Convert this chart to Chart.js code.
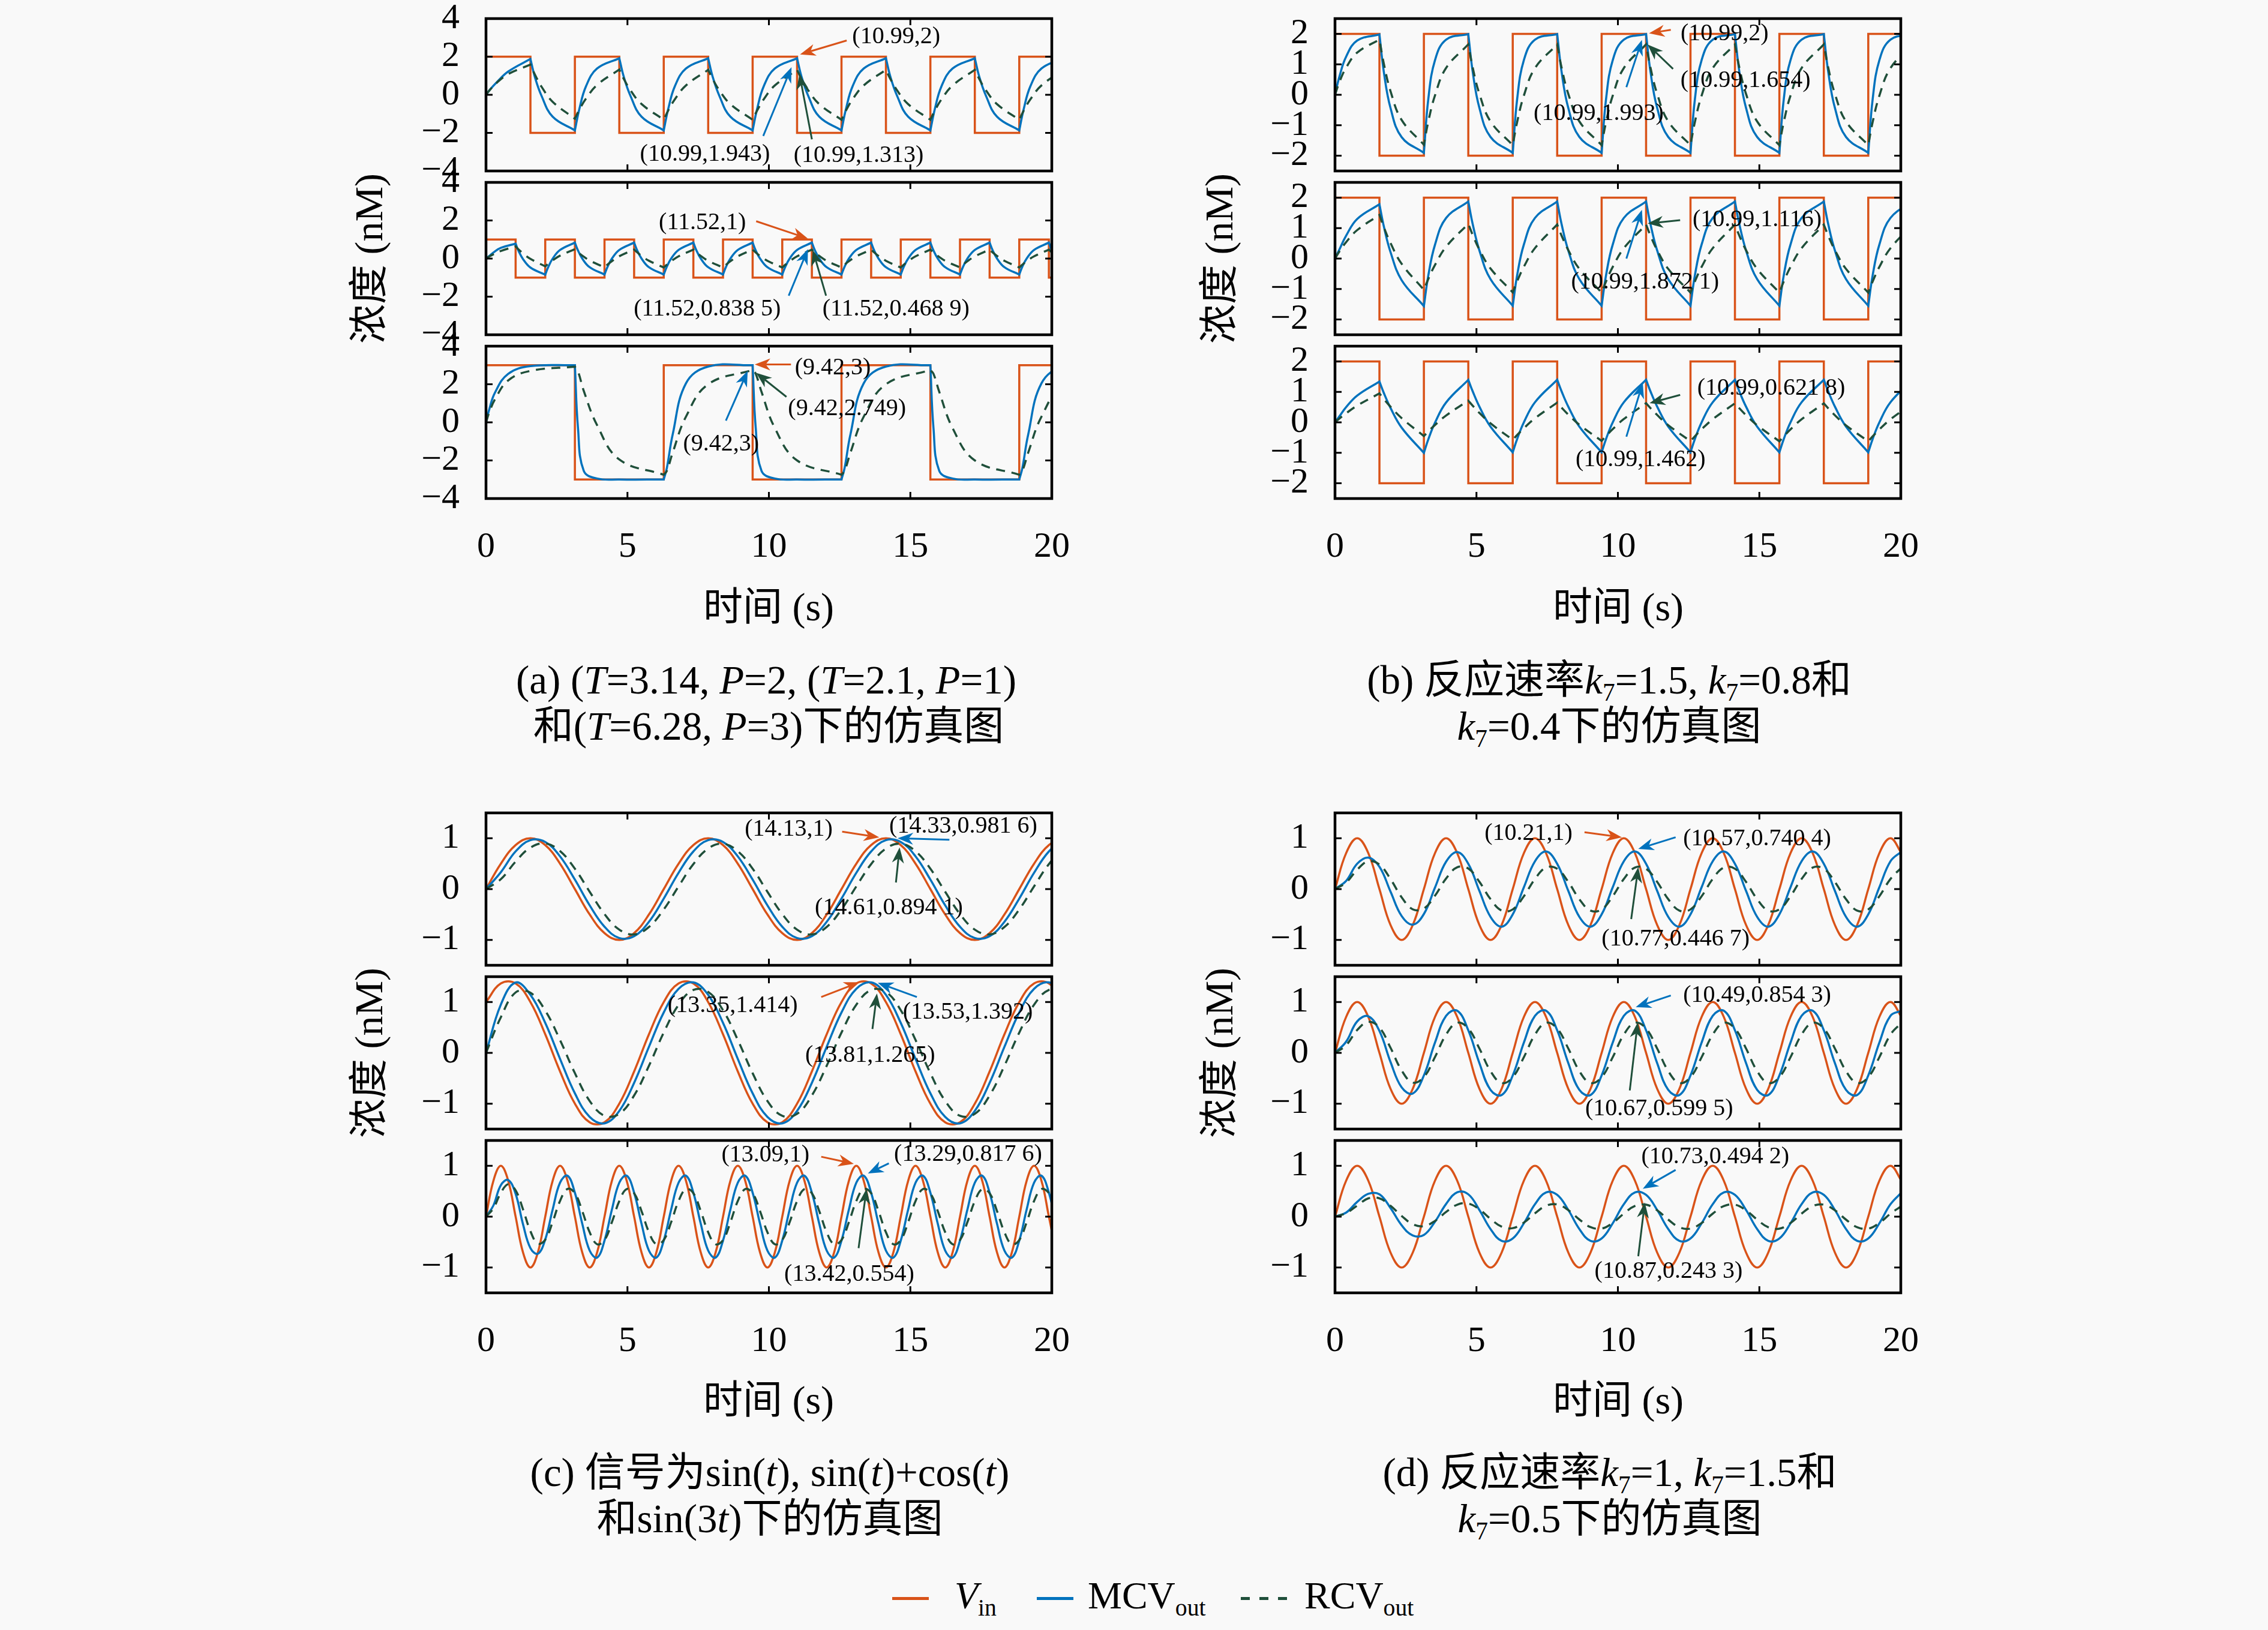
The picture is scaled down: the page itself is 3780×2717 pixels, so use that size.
<!DOCTYPE html>
<html>
<head>
<meta charset="utf-8">
<script src="https://cdn.jsdelivr.net/npm/chart.js@4.4.1/dist/chart.umd.min.js"></script>
<style>
  body { margin: 0; background: #f9f9f9; width: 3780px; height: 2717px; position: relative; overflow: hidden;
         font-family: "Liberation Serif", "Noto Sans CJK SC", serif; color: #000; }
  canvas { position: absolute; }
  .lab { position: absolute; transform: translate(-50%, -50%); white-space: nowrap; line-height: 1; }
  .cap { font-size: 67px; }
  .axt { font-size: 66px; }
  .rot { transform: translate(-50%, -50%) rotate(-90deg); }
  sub { font-size: 0.62em; vertical-align: -0.3em; line-height: 0; }
  .leg { position: absolute; font-size: 64px; line-height: 64px; top: 2628px; white-space: nowrap; }
  .legline { position: absolute; top: 2662px; height: 5px; width: 61px; }
</style>
</head>
<body>

<div class="lab axt" style="left:1281px; top:1012px">时间 (s)</div>
<div class="lab axt" style="left:2697px; top:1012px">时间 (s)</div>
<div class="lab axt" style="left:1281px; top:2334px">时间 (s)</div>
<div class="lab axt" style="left:2697px; top:2334px">时间 (s)</div>

<div class="lab axt rot" style="left:615px; top:431px">浓度 (nM)</div>
<div class="lab axt rot" style="left:2032px; top:431px">浓度 (nM)</div>
<div class="lab axt rot" style="left:615px; top:1755px">浓度 (nM)</div>
<div class="lab axt rot" style="left:2032px; top:1755px">浓度 (nM)</div>

<div class="lab cap" style="left:1277px; top:1133px">(a) (<i>T</i>=3.14, <i>P</i>=2, (<i>T</i>=2.1, <i>P</i>=1)</div>
<div class="lab cap" style="left:1281px; top:1210px">和(<i>T</i>=6.28, <i>P</i>=3)下的仿真图</div>
<div class="lab cap" style="left:2682px; top:1133px">(b) 反应速率<i>k</i><sub>7</sub>=1.5, <i>k</i><sub>7</sub>=0.8和</div>
<div class="lab cap" style="left:2682px; top:1210px"><i>k</i><sub>7</sub>=0.4下的仿真图</div>
<div class="lab cap" style="left:1283px; top:2454px">(c) 信号为sin(<i>t</i>), sin(<i>t</i>)+cos(<i>t</i>)</div>
<div class="lab cap" style="left:1283px; top:2531px">和sin(3<i>t</i>)下的仿真图</div>
<div class="lab cap" style="left:2683px; top:2454px">(d) 反应速率<i>k</i><sub>7</sub>=1, <i>k</i><sub>7</sub>=1.5和</div>
<div class="lab cap" style="left:2683px; top:2531px"><i>k</i><sub>7</sub>=0.5下的仿真图</div>

<div class="legline" style="left:1487px; background:#D95319"></div>
<div class="leg" style="left:1591px"><i>V</i><sub>in</sub></div>
<div class="legline" style="left:1728px; background:#0072BD"></div>
<div class="leg" style="left:1813px">MCV<sub>out</sub></div>
<div class="legline" style="left:2068px; width:77px; background:repeating-linear-gradient(to right, #1f4f3a 0 15px, transparent 15px 31px)"></div>
<div class="leg" style="left:2174px">RCV<sub>out</sub></div>

<script>
// ---- 刻度 ----
const X_TICKS = [0, 5, 10, 15, 20];
const Y_TICKS_A = [-4, -2, 0, 2, 4];
const Y_TICKS_B = [-2, -1, 0, 1, 2];
const Y_TICKS_CD = [-1, 0, 1];

// ---- 方波输入 (a1, b1-b3: T=3.14, P=2) ----
const tStep1 = [0, 1.571, 3.142, 4.712, 6.283, 7.854, 9.425, 10.996, 12.566, 14.137, 15.708, 17.279, 18.850, 20.420];
const vinSq1 = [2, -2, 2, -2, 2, -2, 2, -2, 2, -2, 2, -2, 2, 2];
// a2: T=2.1, P=1
const tStep2 = [0, 1.047, 2.094, 3.142, 4.189, 5.236, 6.283, 7.330, 8.378, 9.425, 10.472, 11.519, 12.566, 13.614,
  14.661, 15.708, 16.755, 17.802, 18.850, 19.897, 20.944];
const vinSq2 = [1, -1, 1, -1, 1, -1, 1, -1, 1, -1, 1, -1, 1, -1, 1, -1, 1, -1, 1, -1, -1];
// a3: T=6.28, P=3
const tStep3 = [0, 3.142, 6.283, 9.425, 12.566, 15.708, 18.850, 21.991];
const vinSq3 = [3, -3, 3, -3, 3, -3, 3, 3];

// ---- 方波响应采样时刻 ----
const tSq1 = [
  0, 0.157, 0.393, 0.785, 1.571,
  1.571, 1.728, 1.964, 2.356, 3.142,
  3.142, 3.299, 3.535, 3.927, 4.712,
  4.712, 4.869, 5.105, 5.498, 6.283,
  6.283, 6.440, 6.676, 7.069, 7.854,
  7.854, 8.011, 8.247, 8.639, 9.425,
  9.425, 9.582, 9.818, 10.210, 10.996,
  10.996, 11.153, 11.389, 11.781, 12.566,
  12.566, 12.723, 12.959, 13.352, 14.137,
  14.137, 14.294, 14.530, 14.923, 15.708,
  15.708, 15.865, 16.101, 16.493, 17.279,
  17.279, 17.436, 17.672, 18.064, 18.850,
  18.850, 19.007, 19.243, 19.635, 20.420];

const mcvA1 = [
  0, 0.30, 0.68, 1.22, 1.88,
  1.88, 0.93, -0.06, -1.15, -1.87,
  -1.87, -0.75, 0.45, 1.38, 1.92,
  1.92, 0.95, -0.05, -1.15, -1.87,
  -1.87, -0.75, 0.45, 1.38, 1.92,
  1.92, 0.95, -0.05, -1.15, -1.87,
  -1.87, -0.75, 0.45, 1.38, 1.92,
  1.92, 0.95, -0.05, -1.15, -1.87,
  -1.87, -0.75, 0.45, 1.38, 1.92,
  1.92, 0.95, -0.05, -1.15, -1.87,
  -1.87, -0.75, 0.45, 1.38, 1.92,
  1.92, 0.95, -0.05, -1.15, -1.87,
  -1.87, -0.75, 0.45, 1.38, 1.92];
const rcvA1 = [
  0, 0.291, 0.650, 1.089, 1.585,
  1.585, 1.063, 0.420, -0.368, -1.256,
  -1.256, -0.782, -0.198, 0.518, 1.325,
  1.325, 0.841, 0.244, -0.486, -1.310,
  -1.310, -0.828, -0.234, 0.493, 1.313,
  1.313, 0.831, 0.236, -0.492, -1.313,
  -1.313, -0.831, -0.236, 0.492, 1.313,
  1.313, 0.831, 0.236, -0.492, -1.313,
  -1.313, -0.831, -0.236, 0.492, 1.313,
  1.313, 0.831, 0.236, -0.492, -1.313,
  -1.313, -0.831, -0.236, 0.492, 1.313,
  1.313, 0.831, 0.236, -0.492, -1.313,
  -1.313, -0.831, -0.236, 0.492, 1.313];

const tSq2 = [
  0, 0.105, 0.262, 0.524, 1.047,
  1.047, 1.152, 1.309, 1.571, 2.094,
  2.094, 2.199, 2.356, 2.618, 3.142,
  3.142, 3.247, 3.403, 3.665, 4.189,
  4.189, 4.294, 4.451, 4.712, 5.236,
  5.236, 5.341, 5.498, 5.760, 6.283,
  6.283, 6.388, 6.545, 6.807, 7.330,
  7.330, 7.435, 7.592, 7.854, 8.378,
  8.378, 8.482, 8.639, 8.901, 9.425,
  9.425, 9.529, 9.687, 9.948, 10.472,
  10.472, 10.577, 10.734, 10.996, 11.519,
  11.519, 11.624, 11.781, 12.043, 12.566,
  12.566, 12.671, 12.828, 13.090, 13.614,
  13.614, 13.718, 13.875, 14.137, 14.661,
  14.661, 14.765, 14.923, 15.184, 15.708,
  15.708, 15.813, 15.970, 16.232, 16.755,
  16.755, 16.860, 17.017, 17.279, 17.802,
  17.802, 17.907, 18.064, 18.326, 18.850,
  18.850, 18.954, 19.111, 19.373, 19.897,
  19.897, 20.001, 20.159, 20.420, 20.944];
const mcvA2 = [
  0, 0.12, 0.32, 0.56, 0.78,
  0.78, 0.396, -0.031, -0.472, -0.844,
  -0.844, -0.446, -0.004, 0.453, 0.838,
  0.838, 0.442, 0.001, -0.455, -0.838,
  -0.838, -0.442, -0.001, 0.455, 0.838,
  0.838, 0.442, 0.001, -0.455, -0.838,
  -0.838, -0.442, -0.001, 0.455, 0.838,
  0.838, 0.442, 0.001, -0.455, -0.838,
  -0.838, -0.442, -0.001, 0.455, 0.838,
  0.838, 0.442, 0.001, -0.455, -0.838,
  -0.838, -0.442, -0.001, 0.455, 0.838,
  0.838, 0.442, 0.001, -0.455, -0.838,
  -0.838, -0.442, -0.001, 0.455, 0.838,
  0.838, 0.442, 0.001, -0.455, -0.838,
  -0.838, -0.442, -0.001, 0.455, 0.838,
  0.838, 0.442, 0.001, -0.455, -0.838,
  -0.838, -0.442, -0.001, 0.455, 0.838,
  0.838, 0.442, 0.001, -0.455, -0.838,
  -0.838, -0.442, -0.001, 0.455, 0.838,
  0.838, 0.442, 0.001, -0.455, -0.838];
const rcvA2 = [
  0, 0.097, 0.224, 0.399, 0.638,
  0.638, 0.480, 0.270, -0.015, -0.408,
  -0.408, -0.272, -0.092, 0.153, 0.491,
  0.491, 0.347, 0.156, -0.103, -0.461,
  -0.461, -0.320, -0.133, 0.121, 0.472,
  0.472, 0.330, 0.142, -0.115, -0.468,
  -0.468, -0.326, -0.139, 0.117, 0.469,
  0.469, 0.326, 0.139, -0.117, -0.469,
  -0.469, -0.326, -0.139, 0.117, 0.469,
  0.469, 0.326, 0.139, -0.117, -0.469,
  -0.469, -0.326, -0.139, 0.117, 0.469,
  0.469, 0.326, 0.139, -0.117, -0.469,
  -0.469, -0.326, -0.139, 0.117, 0.469,
  0.469, 0.326, 0.139, -0.117, -0.469,
  -0.469, -0.326, -0.139, 0.117, 0.469,
  0.469, 0.326, 0.139, -0.117, -0.469,
  -0.469, -0.326, -0.139, 0.117, 0.469,
  0.469, 0.326, 0.139, -0.117, -0.469,
  -0.469, -0.326, -0.139, 0.117, 0.469,
  0.469, 0.326, 0.139, -0.117, -0.469];

const tSq3 = [
  0, 0.110, 0.314, 0.785, 1.571, 3.142,
  3.142, 3.252, 3.456, 3.927, 4.712, 6.283,
  6.283, 6.393, 6.597, 7.069, 7.854, 9.425,
  9.425, 9.535, 9.739, 10.210, 10.996, 12.566,
  12.566, 12.676, 12.880, 13.352, 14.137, 15.708,
  15.708, 15.818, 16.022, 16.493, 17.279, 18.850,
  18.850, 18.960, 19.164, 19.635, 20.420, 21.991];
const mcvA3 = [
  0, 0.65, 1.55, 2.55, 2.95, 3.0,
  3.0, -0.3, -2.55, -2.95, -3.0, -3.0,
  -3.0, -2.4, -0.65, 2.05, 2.93, 3.0,
  3.0, -0.3, -2.55, -2.95, -3.0, -3.0,
  -3.0, -2.4, -0.65, 2.05, 2.93, 3.0,
  3.0, -0.3, -2.55, -2.95, -3.0, -3.0,
  -3.0, -2.4, -0.65, 2.05, 2.93, 3.0];
const rcvA3 = [
  0, 0.5, 1.2, 2.2, 2.7, 2.92,
  2.92, 2.68, 1.65, -0.15, -1.95, -2.75,
  -2.75, -2.55, -1.6, 0.3, 2.0, 2.75,
  2.75, 2.55, 1.6, -0.3, -2.0, -2.75,
  -2.75, -2.55, -1.6, 0.3, 2.0, 2.75,
  2.75, 2.55, 1.6, -0.3, -2.0, -2.75,
  -2.75, -2.55, -1.6, 0.3, 2.0, 2.75];

// b: k7 = 1.5 / 0.8 / 0.4 (时刻同 tSq1)
const mcvB1 = [
  0, 0.60, 1.25, 1.78, 1.98,
  1.98, 0.74, -0.44, -1.39, -1.905,
  -1.905, -0.134, 1.137, 1.809, 1.991,
  1.991, 0.746, -0.433, -1.385, -1.905,
  -1.905, -0.134, 1.137, 1.809, 1.991,
  1.991, 0.746, -0.433, -1.385, -1.905,
  -1.905, -0.134, 1.137, 1.809, 1.991,
  1.991, 0.746, -0.433, -1.385, -1.905,
  -1.905, -0.134, 1.137, 1.809, 1.991,
  1.991, 0.746, -0.433, -1.385, -1.905,
  -1.905, -0.134, 1.137, 1.809, 1.991,
  1.991, 0.746, -0.433, -1.385, -1.905,
  -1.905, -0.134, 1.137, 1.809, 1.991];
const rcvB1 = [
  0, 0.420, 0.890, 1.385, 1.811,
  1.811, 1.011, 0.115, -0.827, -1.639,
  -1.639, -0.875, -0.020, 0.880, 1.655,
  1.655, 0.887, 0.028, -0.875, -1.654,
  -1.654, -0.887, -0.028, 0.876, 1.654,
  1.654, 0.887, 0.028, -0.876, -1.654,
  -1.654, -0.887, -0.028, 0.876, 1.654,
  1.654, 0.887, 0.028, -0.876, -1.654,
  -1.654, -0.887, -0.028, 0.876, 1.654,
  1.654, 0.887, 0.028, -0.876, -1.654,
  -1.654, -0.887, -0.028, 0.876, 1.654,
  1.654, 0.887, 0.028, -0.876, -1.654,
  -1.654, -0.887, -0.028, 0.876, 1.654];
const mcvB2 = [
  0, 0.30, 0.75, 1.30, 1.78,
  1.78, 1.049, 0.208, -0.710, -1.560,
  -1.560, -0.550, 0.455, 1.331, 1.874,
  1.874, 1.124, 0.263, -0.678, -1.549,
  -1.549, -0.541, 0.460, 1.333, 1.874,
  1.874, 1.124, 0.263, -0.678, -1.549,
  -1.549, -0.541, 0.460, 1.333, 1.874,
  1.874, 1.124, 0.263, -0.678, -1.549,
  -1.549, -0.541, 0.460, 1.333, 1.874,
  1.874, 1.124, 0.263, -0.678, -1.549,
  -1.549, -0.541, 0.460, 1.333, 1.874,
  1.874, 1.124, 0.263, -0.678, -1.549,
  -1.549, -0.541, 0.460, 1.333, 1.874];
const rcvB2 = [
  0, 0.237, 0.540, 0.935, 1.433,
  1.433, 1.027, 0.505, -0.172, -1.026,
  -1.026, -0.668, -0.208, 0.388, 1.142,
  1.142, 0.770, 0.293, -0.327, -1.109,
  -1.109, -0.741, -0.269, 0.344, 1.118,
  1.118, 0.749, 0.276, -0.339, -1.115,
  -1.115, -0.747, -0.274, 0.340, 1.116,
  1.116, 0.747, 0.274, -0.340, -1.116,
  -1.116, -0.747, -0.274, 0.340, 1.116,
  1.116, 0.747, 0.274, -0.340, -1.116,
  -1.116, -0.747, -0.274, 0.340, 1.116,
  1.116, 0.747, 0.274, -0.340, -1.116,
  -1.116, -0.747, -0.274, 0.340, 1.116];
const mcvB3 = [
  0, 0.20, 0.50, 0.88, 1.34,
  1.34, 0.960, 0.470, -0.174, -1.002,
  -1.002, -0.556, -0.010, 0.653, 1.395,
  1.395, 1.013, 0.514, -0.141, -0.984,
  -0.984, -0.542, 0.001, 0.660, 1.399,
  1.399, 1.013, 0.514, -0.141, -0.984,
  -0.984, -0.542, 0.001, 0.660, 1.399,
  1.399, 1.013, 0.514, -0.141, -0.984,
  -0.984, -0.542, 0.001, 0.660, 1.399,
  1.399, 1.013, 0.514, -0.141, -0.984,
  -0.984, -0.542, 0.001, 0.660, 1.399,
  1.399, 1.013, 0.514, -0.141, -0.984,
  -0.984, -0.542, 0.001, 0.660, 1.399];
const rcvB3 = [
  0, 0.125, 0.297, 0.550, 0.949,
  0.949, 0.765, 0.511, 0.138, -0.450,
  -0.450, -0.297, -0.086, 0.224, 0.712,
  0.712, 0.543, 0.309, -0.034, -0.574,
  -0.574, -0.414, -0.192, 0.134, 0.647,
  0.647, 0.482, 0.254, -0.081, -0.608,
  -0.608, -0.446, -0.221, 0.109, 0.629,
  0.629, 0.465, 0.239, -0.094, -0.618,
  -0.618, -0.455, -0.229, 0.102, 0.624,
  0.624, 0.461, 0.234, -0.097, -0.621,
  -0.621, -0.458, -0.232, 0.100, 0.622,
  0.622, 0.459, 0.233, -0.099, -0.622,
  -0.622, -0.459, -0.232, 0.099, 0.622];

// ---- c: sin(t), sin(t)+cos(t), sin(3t) ----
const tC1 = [
  0, 0.524, 1.047, 1.571, 2.094, 2.618, 3.142, 3.665, 4.189, 4.712, 5.236, 5.760,
  6.283, 6.807, 7.330, 7.854, 8.378, 8.901, 9.425, 9.948, 10.472, 10.996, 11.519, 12.043,
  12.566, 13.090, 13.614, 14.137, 14.661, 15.184, 15.708, 16.232, 16.755, 17.279, 17.802, 18.326,
  18.850, 19.373, 19.897, 20.420];
const vinC1 = [
  0, 0.5, 0.866, 1, 0.866, 0.5, 0, -0.5, -0.866, -1, -0.866, -0.5,
  0, 0.5, 0.866, 1, 0.866, 0.5, 0, -0.5, -0.866, -1, -0.866, -0.5,
  0, 0.5, 0.866, 1, 0.866, 0.5, 0, -0.5, -0.866, -1, -0.866, -0.5,
  0, 0.5, 0.866, 1];
const mcvC1 = [
  0, 0.333, 0.742, 0.964, 0.928, 0.644, 0.187, -0.320, -0.741, -0.964, -0.928, -0.644,
  -0.187, 0.320, 0.741, 0.964, 0.928, 0.644, 0.187, -0.320, -0.741, -0.964, -0.928, -0.644,
  -0.187, 0.320, 0.741, 0.964, 0.928, 0.644, 0.187, -0.320, -0.741, -0.964, -0.928, -0.644,
  -0.187, 0.320, 0.741, 0.964];
const rcvC1 = [
  0, 0.194, 0.542, 0.817, 0.899, 0.749, 0.401, -0.053, -0.492, -0.799, -0.893, -0.746,
  -0.401, 0.053, 0.492, 0.799, 0.893, 0.746, 0.401, -0.053, -0.492, -0.799, -0.893, -0.746,
  -0.401, 0.053, 0.492, 0.799, 0.893, 0.746, 0.401, -0.053, -0.492, -0.799, -0.893, -0.746,
  -0.401, 0.053, 0.492, 0.799];
const vinC2 = [
  1.0, 1.366, 1.366, 1.0, 0.366, -0.366, -1.0, -1.366, -1.366, -1.0, -0.366, 0.366,
  1.0, 1.366, 1.366, 1.0, 0.366, -0.366, -1.0, -1.366, -1.366, -1.0, -0.366, 0.366,
  1.0, 1.366, 1.366, 1.0, 0.366, -0.366, -1.0, -1.366, -1.366, -1.0, -0.366, 0.366,
  1.0, 1.366, 1.366, 1.0];
const mcvC2 = [
  0, 0.95, 1.385, 1.142, 0.590, -0.119, -0.796, -1.261, -1.387, -1.142, -0.590, 0.119,
  0.796, 1.261, 1.387, 1.142, 0.590, -0.119, -0.796, -1.261, -1.387, -1.142, -0.590, 0.119,
  0.796, 1.261, 1.387, 1.142, 0.590, -0.119, -0.796, -1.261, -1.387, -1.142, -0.590, 0.119,
  0.796, 1.261, 1.387, 1.142];
const rcvC2 = [
  0, 0.70, 1.190, 1.183, 0.833, 0.252, -0.400, -0.947, -1.239, -1.200, -0.839, -0.254,
  0.400, 0.947, 1.239, 1.200, 0.839, 0.254, -0.400, -0.947, -1.239, -1.200, -0.839, -0.254,
  0.400, 0.947, 1.239, 1.200, 0.839, 0.254, -0.400, -0.947, -1.239, -1.200, -0.839, -0.254,
  0.400, 0.947, 1.239, 1.200];
const tC3 = [
  0, 0.262, 0.524, 0.785, 1.047, 1.309, 1.571, 1.833,
  2.094, 2.356, 2.618, 2.880, 3.142, 3.403, 3.665, 3.927,
  4.189, 4.451, 4.712, 4.974, 5.236, 5.498, 5.760, 6.021,
  6.283, 6.545, 6.807, 7.069, 7.330, 7.592, 7.854, 8.116,
  8.378, 8.639, 8.901, 9.163, 9.425, 9.687, 9.948, 10.210,
  10.472, 10.734, 10.996, 11.257, 11.519, 11.781, 12.043, 12.305,
  12.566, 12.828, 13.090, 13.352, 13.614, 13.875, 14.137, 14.399,
  14.661, 14.923, 15.184, 15.446, 15.708, 15.970, 16.232, 16.493,
  16.755, 17.017, 17.279, 17.541, 17.802, 18.064, 18.326, 18.588,
  18.850, 19.111, 19.373, 19.635, 19.897, 20.159];
const vinC3 = [
  0, 0.707, 1, 0.707, 0, -0.707, -1, -0.707,
  0, 0.707, 1, 0.707, 0, -0.707, -1, -0.707,
  0, 0.707, 1, 0.707, 0, -0.707, -1, -0.707,
  0, 0.707, 1, 0.707, 0, -0.707, -1, -0.707,
  0, 0.707, 1, 0.707, 0, -0.707, -1, -0.707,
  0, 0.707, 1, 0.707, 0, -0.707, -1, -0.707,
  0, 0.707, 1, 0.707, 0, -0.707, -1, -0.707,
  0, 0.707, 1, 0.707, 0, -0.707, -1, -0.707,
  0, 0.707, 1, 0.707, 0, -0.707, -1, -0.707,
  0, 0.707, 1, 0.707, 0, -0.707];
const mcvC3 = [
  0, 0.22, 0.62, 0.72, 0.45, -0.15, -0.62, -0.73,
  -0.45, 0.14, 0.67, 0.806, 0.471, -0.140, -0.669, -0.806,
  -0.471, 0.140, 0.669, 0.806, 0.471, -0.140, -0.669, -0.806,
  -0.471, 0.140, 0.669, 0.806, 0.471, -0.140, -0.669, -0.806,
  -0.471, 0.140, 0.669, 0.806, 0.471, -0.140, -0.669, -0.806,
  -0.471, 0.140, 0.669, 0.806, 0.471, -0.140, -0.669, -0.806,
  -0.471, 0.140, 0.669, 0.806, 0.471, -0.140, -0.669, -0.806,
  -0.471, 0.140, 0.669, 0.806, 0.471, -0.140, -0.669, -0.806,
  -0.471, 0.140, 0.669, 0.806, 0.471, -0.140, -0.669, -0.806,
  -0.471, 0.140, 0.669, 0.806, 0.471, -0.140];
const rcvC3 = [
  0, 0.164, 0.469, 0.639, 0.518, 0.143, -0.287, -0.531,
  -0.454, -0.105, 0.310, 0.545, 0.462, 0.109, -0.307, -0.543,
  -0.461, -0.109, 0.307, 0.543, 0.461, 0.109, -0.307, -0.543,
  -0.461, -0.109, 0.307, 0.543, 0.461, 0.109, -0.307, -0.543,
  -0.461, -0.109, 0.307, 0.543, 0.461, 0.109, -0.307, -0.543,
  -0.461, -0.109, 0.307, 0.543, 0.461, 0.109, -0.307, -0.543,
  -0.461, -0.109, 0.307, 0.543, 0.461, 0.109, -0.307, -0.543,
  -0.461, -0.109, 0.307, 0.543, 0.461, 0.109, -0.307, -0.543,
  -0.461, -0.109, 0.307, 0.543, 0.461, 0.109, -0.307, -0.543,
  -0.461, -0.109, 0.307, 0.543, 0.461, 0.109];

// ---- d: sin(2t), k7 = 1 / 1.5 / 0.5 ----
const tD = [
  0, 0.393, 0.785, 1.178, 1.571, 1.963, 2.356, 2.749,
  3.142, 3.534, 3.927, 4.320, 4.712, 5.105, 5.498, 5.890,
  6.283, 6.676, 7.069, 7.461, 7.854, 8.247, 8.639, 9.032,
  9.425, 9.817, 10.210, 10.603, 10.996, 11.388, 11.781, 12.174,
  12.566, 12.959, 13.352, 13.744, 14.137, 14.530, 14.923, 15.315,
  15.708, 16.101, 16.493, 16.886, 17.279, 17.671, 18.064, 18.457,
  18.850, 19.242, 19.635, 20.028];
const vinD = [
  0, 0.707, 1, 0.707, 0, -0.707, -1, -0.707,
  0, 0.707, 1, 0.707, 0, -0.707, -1, -0.707,
  0, 0.707, 1, 0.707, 0, -0.707, -1, -0.707,
  0, 0.707, 1, 0.707, 0, -0.707, -1, -0.707,
  0, 0.707, 1, 0.707, 0, -0.707, -1, -0.707,
  0, 0.707, 1, 0.707, 0, -0.707, -1, -0.707,
  0, 0.707, 1, 0.707];
const mcvD1 = [
  0, 0.16, 0.50, 0.62, 0.44, -0.05, -0.53, -0.70,
  -0.49, 0.03, 0.54, 0.73, 0.498, -0.036, -0.548, -0.740,
  -0.498, 0.036, 0.548, 0.740, 0.498, -0.036, -0.548, -0.740,
  -0.498, 0.036, 0.548, 0.740, 0.498, -0.036, -0.548, -0.740,
  -0.498, 0.036, 0.548, 0.740, 0.498, -0.036, -0.548, -0.740,
  -0.498, 0.036, 0.548, 0.740, 0.498, -0.036, -0.548, -0.740,
  -0.498, 0.036, 0.548, 0.740];
const rcvD1 = [
  0, 0.129, 0.382, 0.547, 0.483, 0.197, -0.162, -0.398,
  -0.383, -0.129, 0.208, 0.429, 0.404, 0.143, -0.198, -0.423,
  -0.400, -0.141, 0.200, 0.424, 0.400, 0.141, -0.200, -0.424,
  -0.400, -0.141, 0.200, 0.424, 0.400, 0.141, -0.200, -0.424,
  -0.400, -0.141, 0.200, 0.424, 0.400, 0.141, -0.200, -0.424,
  -0.400, -0.141, 0.200, 0.424, 0.400, 0.141, -0.200, -0.424,
  -0.400, -0.141, 0.200, 0.424];
const mcvD2 = [
  0, 0.22, 0.62, 0.72, 0.43, -0.18, -0.68, -0.80,
  -0.444, 0.202, 0.730, 0.830, 0.444, -0.202, -0.730, -0.830,
  -0.444, 0.202, 0.730, 0.830, 0.444, -0.202, -0.730, -0.830,
  -0.444, 0.202, 0.730, 0.830, 0.444, -0.202, -0.730, -0.830,
  -0.444, 0.202, 0.730, 0.830, 0.444, -0.202, -0.730, -0.830,
  -0.444, 0.202, 0.730, 0.830, 0.444, -0.202, -0.730, -0.830,
  -0.444, 0.202, 0.730, 0.830];
const rcvD2 = [
  0, 0.15, 0.45, 0.61, 0.50, 0.10, -0.346, -0.585,
  -0.476, -0.083, 0.361, 0.593, 0.480, 0.085, -0.360, -0.593,
  -0.480, -0.085, 0.360, 0.593, 0.480, 0.085, -0.360, -0.593,
  -0.480, -0.085, 0.360, 0.593, 0.480, 0.085, -0.360, -0.593,
  -0.480, -0.085, 0.360, 0.593, 0.480, 0.085, -0.360, -0.593,
  -0.480, -0.085, 0.360, 0.593, 0.480, 0.085, -0.360, -0.593,
  -0.480, -0.085, 0.360, 0.593];
const mcvD3 = [
  0, 0.08, 0.29, 0.45, 0.44, 0.17, -0.17, -0.37,
  -0.36, -0.10, 0.25, 0.48, 0.44, 0.13, -0.244, -0.477,
  -0.430, -0.131, 0.244, 0.477, 0.430, 0.131, -0.244, -0.477,
  -0.430, -0.131, 0.244, 0.477, 0.430, 0.131, -0.244, -0.477,
  -0.430, -0.131, 0.244, 0.477, 0.430, 0.131, -0.244, -0.477,
  -0.430, -0.131, 0.244, 0.477, 0.430, 0.131, -0.244, -0.477,
  -0.430, -0.131, 0.244, 0.477];
const rcvD3 = [
  0, 0.069, 0.218, 0.36, 0.36, 0.213, 0.014, -0.149,
  -0.187, -0.085, 0.092, 0.236, 0.258, 0.143, -0.044, -0.197,
  -0.226, -0.117, 0.066, 0.215, 0.241, 0.129, -0.056, -0.206,
  -0.234, -0.123, 0.060, 0.210, 0.236, 0.125, -0.059, -0.209,
  -0.236, -0.125, 0.059, 0.209, 0.236, 0.125, -0.059, -0.209,
  -0.236, -0.125, 0.059, 0.209, 0.236, 0.125, -0.059, -0.209,
  -0.236, -0.125, 0.059, 0.209];

// ---- 标注 (文字中心, 箭头起点 -> 终点, 数据坐标) ----
const notesA1 = [
  { s: '(10.99,2)', t: [14.5, 3.05], a: [12.75, 2.85], b: [11.1, 2.12], c: 'vin' },
  { s: '(10.99,1.943)', t: [7.74, -3.13], a: [9.8, -2.16], b: [10.8, 1.45], c: 'mcv' },
  { s: '(10.99,1.313)', t: [13.17, -3.2], a: [11.52, -2.34], b: [11.08, 1.1], c: 'rcv' }];
const notesA2 = [
  { s: '(11.52,1)', t: [7.65, 1.86], a: [9.55, 1.96], b: [11.38, 1.05], c: 'vin' },
  { s: '(11.52,0.838 5)', t: [7.82, -2.65], a: [10.7, -1.95], b: [11.38, 0.5], c: 'mcv' },
  { s: '(11.52,0.468 9)', t: [14.49, -2.65], a: [12.02, -1.95], b: [11.55, 0.45], c: 'rcv' }];
const notesA3 = [
  { s: '(9.42,3)', t: [12.26, 2.86], a: [10.78, 3.04], b: [9.5, 3.04], c: 'vin' },
  { s: '(9.42,2.749)', t: [12.76, 0.71], a: [10.62, 1.34], b: [9.55, 2.6], c: 'rcv' },
  { s: '(9.42,3)', t: [8.31, -1.16], a: [8.48, 0.09], b: [9.25, 2.7], c: 'mcv' }];
const notesB1 = [
  { s: '(10.99,2)', t: [13.77, 2.0], a: [11.87, 2.13], b: [11.1, 2.02], c: 'vin' },
  { s: '(10.99,1.654)', t: [14.51, 0.47], a: [11.95, 0.85], b: [11.05, 1.65], c: 'rcv' },
  { s: '(10.99,1.993)', t: [9.32, -0.62], a: [10.3, 0.25], b: [10.85, 1.8], c: 'mcv' }];
const notesB2 = [
  { s: '(10.99,1.116)', t: [14.92, 1.26], a: [12.2, 1.26], b: [11.05, 1.15], c: 'rcv' },
  { s: '(10.99,1.872 1)', t: [10.96, -0.77], a: [10.3, 0.0], b: [10.85, 1.6], c: 'mcv' }];
const notesB3 = [
  { s: '(10.99,0.621 8)', t: [15.42, 1.12], a: [12.2, 0.9], b: [11.12, 0.63], c: 'rcv' },
  { s: '(10.99,1.462)', t: [10.8, -1.24], a: [10.3, -0.47], b: [10.88, 1.3], c: 'mcv' }];
const notesC1 = [
  { s: '(14.13,1)', t: [10.7, 1.17], a: [12.59, 1.13], b: [13.9, 1.02], c: 'vin' },
  { s: '(14.33,0.981 6)', t: [16.87, 1.23], a: [16.38, 0.97], b: [14.55, 1.0], c: 'mcv' },
  { s: '(14.61,0.894 1)', t: [14.24, -0.37], a: [14.49, 0.13], b: [14.62, 0.82], c: 'rcv' }];
const notesC2 = [
  { s: '(13.35,1.414)', t: [8.72, 0.93], a: [11.85, 1.1], b: [13.2, 1.39], c: 'vin' },
  { s: '(13.53,1.392)', t: [17.03, 0.8], a: [15.23, 1.1], b: [13.85, 1.38], c: 'mcv' },
  { s: '(13.81,1.265)', t: [13.58, -0.05], a: [13.66, 0.47], b: [13.82, 1.17], c: 'rcv' }];
const notesC3 = [
  { s: '(13.09,1)', t: [9.88, 1.21], a: [11.85, 1.18], b: [13.0, 1.04], c: 'vin' },
  { s: '(13.29,0.817 6)', t: [17.04, 1.22], a: [14.24, 1.05], b: [13.5, 0.85], c: 'mcv' },
  { s: '(13.42,0.554)', t: [12.84, -1.14], a: [13.17, -0.62], b: [13.45, 0.55], c: 'rcv' }];
const notesD1 = [
  { s: '(10.21,1)', t: [6.84, 1.09], a: [8.82, 1.12], b: [10.14, 1.02], c: 'vin' },
  { s: '(10.57,0.740 4)', t: [14.92, 0.99], a: [12.04, 1.02], b: [10.72, 0.79], c: 'mcv' },
  { s: '(10.77,0.446 7)', t: [12.04, -0.99], a: [10.47, -0.59], b: [10.72, 0.43], c: 'rcv' }];
const notesD2 = [
  { s: '(10.49,0.854 3)', t: [14.92, 1.13], a: [11.87, 1.13], b: [10.63, 0.9], c: 'mcv' },
  { s: '(10.67,0.599 5)', t: [11.46, -1.1], a: [10.42, -0.74], b: [10.7, 0.6], c: 'rcv' }];
const notesD3 = [
  { s: '(10.73,0.494 2)', t: [13.44, 1.18], a: [12.04, 0.92], b: [10.88, 0.55], c: 'mcv' },
  { s: '(10.87,0.243 3)', t: [11.79, -1.08], a: [10.72, -0.78], b: [10.95, 0.28], c: 'rcv' }];

// ---- 样式与布局 ----
const COLORS = { vin: '#D95319', mcv: '#0072BD', rcv: '#1f4f3a' };
const FONT = '"Liberation Serif", serif';
const BOX_W = 943, BOX_H = 254;
const Y_AXIS_W = 180, PAD_T = 40, PAD_R = 45, PAD_B = 40, X_AXIS_H = 120;
const TICK_LEN = 11;

function pts(xs, ys) {
  return xs.map((x, i) => ({ x: x, y: ys[i] }));
}

function fmt(v) {
  return v < 0 ? '\u2212' + (-v) : String(v);
}

function arrow(ctx, x0, y0, x1, y1, color) {
  const ang = Math.atan2(y1 - y0, x1 - x0);
  const cs = Math.cos(ang), sn = Math.sin(ang);
  const L = 26, W = 10;
  ctx.strokeStyle = color;
  ctx.fillStyle = color;
  ctx.lineWidth = 3;
  ctx.beginPath();
  ctx.moveTo(x0, y0);
  ctx.lineTo(x1 - L * 0.7 * cs, y1 - L * 0.7 * sn);
  ctx.stroke();
  ctx.beginPath();
  ctx.moveTo(x1, y1);
  ctx.lineTo(x1 - L * cs + W * sn, y1 - L * sn - W * cs);
  ctx.lineTo(x1 - L * 0.7 * cs, y1 - L * 0.7 * sn);
  ctx.lineTo(x1 - L * cs - W * sn, y1 - L * sn + W * cs);
  ctx.closePath();
  ctx.fill();
}

// 外框、向内刻度和标注
const framePlugin = {
  id: 'frame',
  afterDatasetsDraw(chart, args, opts) {
    const { ctx, chartArea: ar } = chart;
    const xs = chart.scales.x, ys = chart.scales.y;
    ctx.save();
    ctx.strokeStyle = '#000';
    ctx.lineWidth = 3;
    ctx.beginPath();
    X_TICKS.forEach(v => {
      const px = xs.getPixelForValue(v);
      ctx.moveTo(px, ar.bottom); ctx.lineTo(px, ar.bottom - TICK_LEN);
      ctx.moveTo(px, ar.top); ctx.lineTo(px, ar.top + TICK_LEN);
    });
    opts.yTicks.forEach(v => {
      const py = ys.getPixelForValue(v);
      ctx.moveTo(ar.left, py); ctx.lineTo(ar.left + TICK_LEN, py);
      ctx.moveTo(ar.right, py); ctx.lineTo(ar.right - TICK_LEN, py);
    });
    ctx.stroke();
    ctx.lineWidth = 4.5;
    ctx.strokeRect(ar.left, ar.top, ar.right - ar.left, ar.bottom - ar.top);

    opts.notes.forEach(n => {
      arrow(ctx, xs.getPixelForValue(n.a[0]), ys.getPixelForValue(n.a[1]),
        xs.getPixelForValue(n.b[0]), ys.getPixelForValue(n.b[1]), COLORS[n.c]);
      ctx.fillStyle = '#000';
      ctx.font = '40px ' + FONT;
      ctx.textAlign = 'center';
      ctx.textBaseline = 'middle';
      ctx.fillText(n.s, xs.getPixelForValue(n.t[0]), ys.getPixelForValue(n.t[1]));
    });
    ctx.restore();
  }
};

function zeroPad(s) {
  s.paddingLeft = 0; s.paddingRight = 0; s.paddingTop = 0; s.paddingBottom = 0;
}

function makePlot(p) {
  const cv = document.createElement('canvas');
  const w = Y_AXIS_W + BOX_W + PAD_R;
  const h = PAD_T + BOX_H + (p.showX ? X_AXIS_H : PAD_B);
  cv.width = w; cv.height = h;
  cv.style.left = (p.left - Y_AXIS_W) + 'px';
  cv.style.top = (p.top - PAD_T) + 'px';
  document.body.appendChild(cv);

  // 方波输入画阶梯线, 正弦输入画平滑曲线
  const vinStyle = p.square ? { stepped: true } : { tension: 0.4 };
  const datasets = [
    Object.assign({ data: pts(p.vin[0], p.vin[1]), borderColor: COLORS.vin, borderWidth: 3.5, order: 3 }, vinStyle),
    { data: pts(p.t, p.mcv), borderColor: COLORS.mcv, borderWidth: 3.5, tension: 0.4, order: 2 },
    { data: pts(p.t, p.rcv), borderColor: COLORS.rcv, borderWidth: 3.5, tension: 0.4, borderDash: [15, 11], order: 1 }
  ].map(d => Object.assign(d, { pointRadius: 0, fill: false, clip: 0 }));

  new Chart(cv, {
    type: 'line',
    data: { datasets },
    plugins: [framePlugin],
    options: {
      responsive: false,
      animation: false,
      devicePixelRatio: 1,
      events: [],
      layout: { autoPadding: false, padding: { left: 0, right: PAD_R, top: PAD_T, bottom: p.showX ? 0 : PAD_B } },
      plugins: {
        legend: { display: false },
        tooltip: { enabled: false },
        frame: { yTicks: p.yTicks, notes: p.notes }
      },
      scales: {
        x: {
          type: 'linear', min: 0, max: 20, display: p.showX,
          afterBuildTicks: s => { s.ticks = X_TICKS.map(v => ({ value: v })); },
          afterFit: s => { zeroPad(s); if (p.showX) s.height = X_AXIS_H; },
          grid: { display: false, drawTicks: false },
          border: { display: false },
          ticks: { font: { family: FONT, size: 60 }, color: '#000', padding: 45, maxRotation: 0, autoSkip: false, callback: v => fmt(v) }
        },
        y: {
          type: 'linear', min: p.yMin, max: p.yMax,
          afterBuildTicks: s => { s.ticks = p.yTicks.map(v => ({ value: v })); },
          afterFit: s => { zeroPad(s); s.width = Y_AXIS_W; },
          grid: { display: false, drawTicks: false },
          border: { display: false },
          ticks: { font: { family: FONT, size: 60 }, color: '#000', padding: 44, autoSkip: false, callback: v => fmt(v) }
        }
      }
    }
  });
}

const COL_L = [810, 2225];
const ROW_T = [[31, 304, 577], [1355, 1628, 1901]];

const plots = [
  { left: COL_L[0], top: ROW_T[0][0], yMin: -4, yMax: 4, yTicks: Y_TICKS_A, square: true, vin: [tStep1, vinSq1], t: tSq1, mcv: mcvA1, rcv: rcvA1, notes: notesA1 },
  { left: COL_L[0], top: ROW_T[0][1], yMin: -4, yMax: 4, yTicks: Y_TICKS_A, square: true, vin: [tStep2, vinSq2], t: tSq2, mcv: mcvA2, rcv: rcvA2, notes: notesA2 },
  { left: COL_L[0], top: ROW_T[0][2], yMin: -4, yMax: 4, yTicks: Y_TICKS_A, square: true, vin: [tStep3, vinSq3], t: tSq3, mcv: mcvA3, rcv: rcvA3, notes: notesA3, showX: true },
  { left: COL_L[1], top: ROW_T[0][0], yMin: -2.5, yMax: 2.5, yTicks: Y_TICKS_B, square: true, vin: [tStep1, vinSq1], t: tSq1, mcv: mcvB1, rcv: rcvB1, notes: notesB1 },
  { left: COL_L[1], top: ROW_T[0][1], yMin: -2.5, yMax: 2.5, yTicks: Y_TICKS_B, square: true, vin: [tStep1, vinSq1], t: tSq1, mcv: mcvB2, rcv: rcvB2, notes: notesB2 },
  { left: COL_L[1], top: ROW_T[0][2], yMin: -2.5, yMax: 2.5, yTicks: Y_TICKS_B, square: true, vin: [tStep1, vinSq1], t: tSq1, mcv: mcvB3, rcv: rcvB3, notes: notesB3, showX: true },
  { left: COL_L[0], top: ROW_T[1][0], yMin: -1.5, yMax: 1.5, yTicks: Y_TICKS_CD, vin: [tC1, vinC1], t: tC1, mcv: mcvC1, rcv: rcvC1, notes: notesC1 },
  { left: COL_L[0], top: ROW_T[1][1], yMin: -1.5, yMax: 1.5, yTicks: Y_TICKS_CD, vin: [tC1, vinC2], t: tC1, mcv: mcvC2, rcv: rcvC2, notes: notesC2 },
  { left: COL_L[0], top: ROW_T[1][2], yMin: -1.5, yMax: 1.5, yTicks: Y_TICKS_CD, vin: [tC3, vinC3], t: tC3, mcv: mcvC3, rcv: rcvC3, notes: notesC3, showX: true },
  { left: COL_L[1], top: ROW_T[1][0], yMin: -1.5, yMax: 1.5, yTicks: Y_TICKS_CD, vin: [tD, vinD], t: tD, mcv: mcvD1, rcv: rcvD1, notes: notesD1 },
  { left: COL_L[1], top: ROW_T[1][1], yMin: -1.5, yMax: 1.5, yTicks: Y_TICKS_CD, vin: [tD, vinD], t: tD, mcv: mcvD2, rcv: rcvD2, notes: notesD2 },
  { left: COL_L[1], top: ROW_T[1][2], yMin: -1.5, yMax: 1.5, yTicks: Y_TICKS_CD, vin: [tD, vinD], t: tD, mcv: mcvD3, rcv: rcvD3, notes: notesD3, showX: true }
];

plots.forEach(p => {
  p.showX = !!p.showX;
  p.square = !!p.square;
  makePlot(p);
});
</script>
</body>
</html>
